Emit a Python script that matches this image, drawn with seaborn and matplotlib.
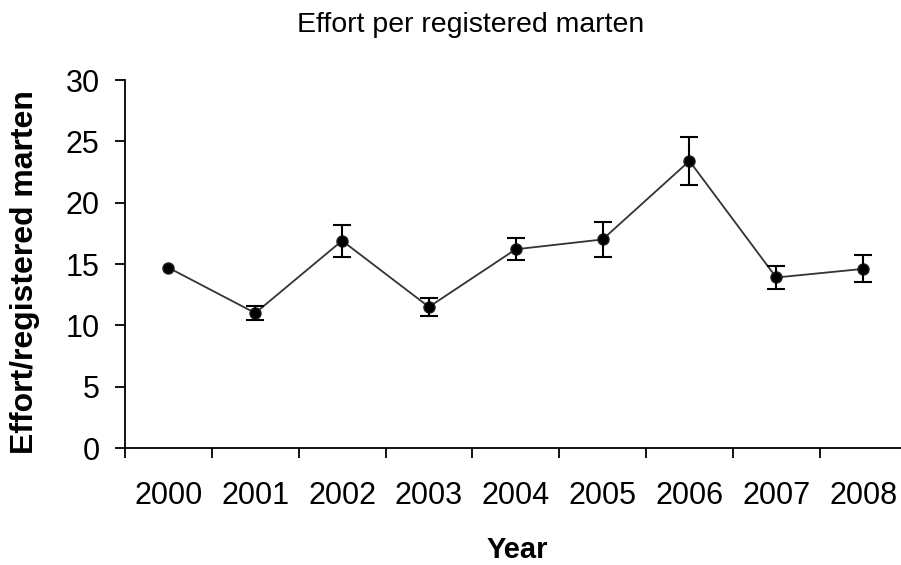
import numpy as np
import pandas as pd
import matplotlib
matplotlib.use("Agg")
import matplotlib.pyplot as plt
import seaborn as sns

# Effort per registered marten, yearly means with standard errors
years = ["2000", "2001", "2002", "2003", "2004", "2005", "2006", "2007", "2008"]
effort = [14.7, 11.0, 16.9, 11.5, 16.2, 17.0, 23.4, 13.9, 14.6]
std_err = [np.nan, 0.55, 1.3, 0.73, 0.9, 1.4, 1.95, 0.97, 1.1]

sns.set_theme(style="ticks")
plt.rcParams["font.family"] = ["Liberation Sans", "DejaVu Sans"]

df = pd.DataFrame({"Year": years, "Effort": effort, "SE": std_err})

fig = plt.figure(figsize=(9.01, 5.65), dpi=100)
ax = fig.add_axes([125 / 901, 117 / 565, 781.5 / 901, 368 / 565])

# mean line with markers
sns.pointplot(data=df, x="Year", y="Effort", ax=ax, color="#333333",
              markers="o", linestyles="-", errorbar=None,
              markersize=8, linewidth=1.3)
for coll in ax.collections:
    coll.set_facecolor("black")
for ln in ax.lines:
    ln.set_markerfacecolor("black")
    ln.set_markeredgecolor("#222222")
    ln.set_zorder(3)

# error bars (years without a standard error are skipped)
pos = np.arange(len(years))
se = df["SE"].to_numpy()
has_err = ~np.isnan(se)
ax.errorbar(pos[has_err], df["Effort"].to_numpy()[has_err], yerr=se[has_err],
            fmt="none", ecolor="black", elinewidth=1.5, capsize=6.5,
            capthick=1.5, zorder=4)

# axes, ticks and spines
ax.set_xlim(-0.5, len(years) - 0.5)
ax.set_ylim(0, 30)
ax.set_yticks(np.arange(0, 31, 5))
ax.set_xticks(pos)
ax.set_xticklabels(years)
ax.set_xticks(np.arange(-0.5, len(years), 1), minor=True)
ax.tick_params(axis="x", which="major", length=0, pad=24, labelsize=22,
               labelcolor="black")
ax.tick_params(axis="x", which="minor", length=7.2, width=1.3,
               direction="out", color="black")
ax.tick_params(axis="y", which="major", length=7.2, width=1.3,
               direction="out", color="black", pad=11, labelsize=22,
               labelcolor="black")
for side in ["top", "right"]:
    ax.spines[side].set_visible(False)
for side in ["left", "bottom"]:
    ax.spines[side].set_color("black")
    ax.spines[side].set_linewidth(1.3)
ax.spines["bottom"].set_clip_on(False)

ax.set_ylabel("Effort/registered marten", fontsize=23, fontweight="bold",
              color="black")
ax.yaxis.label.set_va("center")
ax.yaxis.set_label_coords(-0.128, 0.477)
ax.set_xlabel("Year", fontsize=21, fontweight="bold", color="black")
ax.xaxis.label.set_va("center")
ax.xaxis.set_label_coords(0.5016, -0.276)

fig.text(470.5 / 901, 1 - 32 / 565, "Effort per registered marten",
         ha="center", va="baseline", fontsize=20.5, color="black")

fig.savefig("out.png", dpi=100)
